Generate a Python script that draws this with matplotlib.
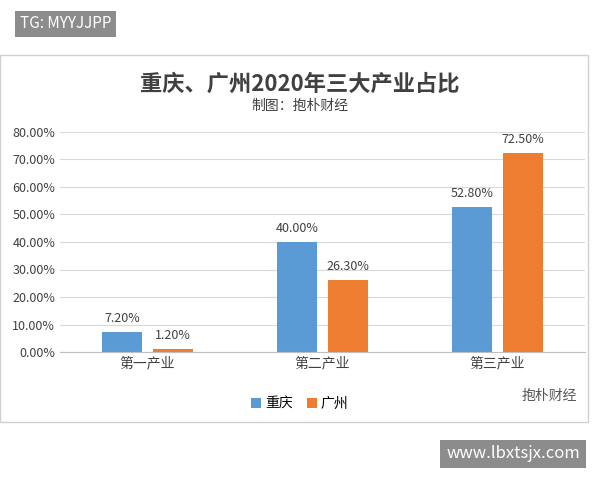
import matplotlib
matplotlib.use("Agg")
import matplotlib.pyplot as plt
import numpy as np
from matplotlib.patches import Rectangle

plt.rcParams['font.family'] = ['Noto Sans CJK SC', 'DejaVu Sans']

categories = ["第一产业", "第二产业", "第三产业"]
chongqing = [7.2, 40.0, 52.8]
guangzhou = [1.2, 26.3, 72.5]
yticks = [0, 10, 20, 30, 40, 50, 60, 70, 80]

fig = plt.figure(figsize=(6, 4.8), dpi=100)
fig.patch.set_facecolor("white")
fig.patches.append(Rectangle((0/600, 1-422/480), 588/600, 367/480, transform=fig.transFigure,
                             fill=False, edgecolor="#d0d0d0", lw=1))
ax = fig.add_axes([60/600, 1-352/480, 525/600, 220/480])
x = np.arange(3)
w = 0.23
b1 = ax.bar(x - 0.145, chongqing, w, color="#5B9BD5", label="重庆")
b2 = ax.bar(x + 0.145, guangzhou, w, color="#ED7D31", label="广州")
for bars, vals in ((b1, chongqing), (b2, guangzhou)):
    for r, v in zip(bars, vals):
        ax.text(r.get_x() + r.get_width()/2, v + 2.5, f"{v:.2f}%", ha="center", va="bottom",
                fontsize=9, color="#404040")
ax.set_ylim(0, 80)
ax.set_xlim(-0.5, 2.5)
ax.set_yticks(yticks)
ax.set_yticklabels([f"{t:.2f}%" for t in yticks], fontsize=9, color="#404040")
ax.set_xticks(x)
ax.set_xticklabels(categories, fontsize=10, color="#404040")
ax.grid(axis="y", color="#d9d9d9", lw=0.8)
ax.set_axisbelow(True)
for s in ["top", "right", "left"]:
    ax.spines[s].set_visible(False)
ax.spines["bottom"].set_color("#bfbfbf")
ax.tick_params(length=0)
fig.text(0.5, 1-84/480, "重庆、广州2020年三大产业占比", ha="center", va="center",
         fontsize=16, fontweight="bold", color="#404040")
fig.text(0.5, 1-106/480, "制图：抱朴财经", ha="center", va="center", fontsize=10, color="#404040")
fig.legend(handles=[b1, b2], loc="center", bbox_to_anchor=(300/600, 1-404/480), ncol=2,
           frameon=False, fontsize=10, handlelength=0.7, handleheight=0.7, columnspacing=1.0,
           handletextpad=0.3)
fig.text(522/600, 1-396/480, "抱朴财经", ha="left", va="center", fontsize=10, color="#555555")
fig.text(20/600, 1-24/480, "TG: MYYJJPP", ha="left", va="center", fontsize=11, color="white",
         bbox=dict(boxstyle="square,pad=0.3", fc="#8c8c8c", ec="none"))
fig.text(580/600, 1-454/480, "www.lbxtsjx.com", ha="right", va="center", fontsize=12, color="white",
         bbox=dict(boxstyle="square,pad=0.35", fc="#8c8c8c", ec="none"))
fig.savefig("out.png", dpi=100)
